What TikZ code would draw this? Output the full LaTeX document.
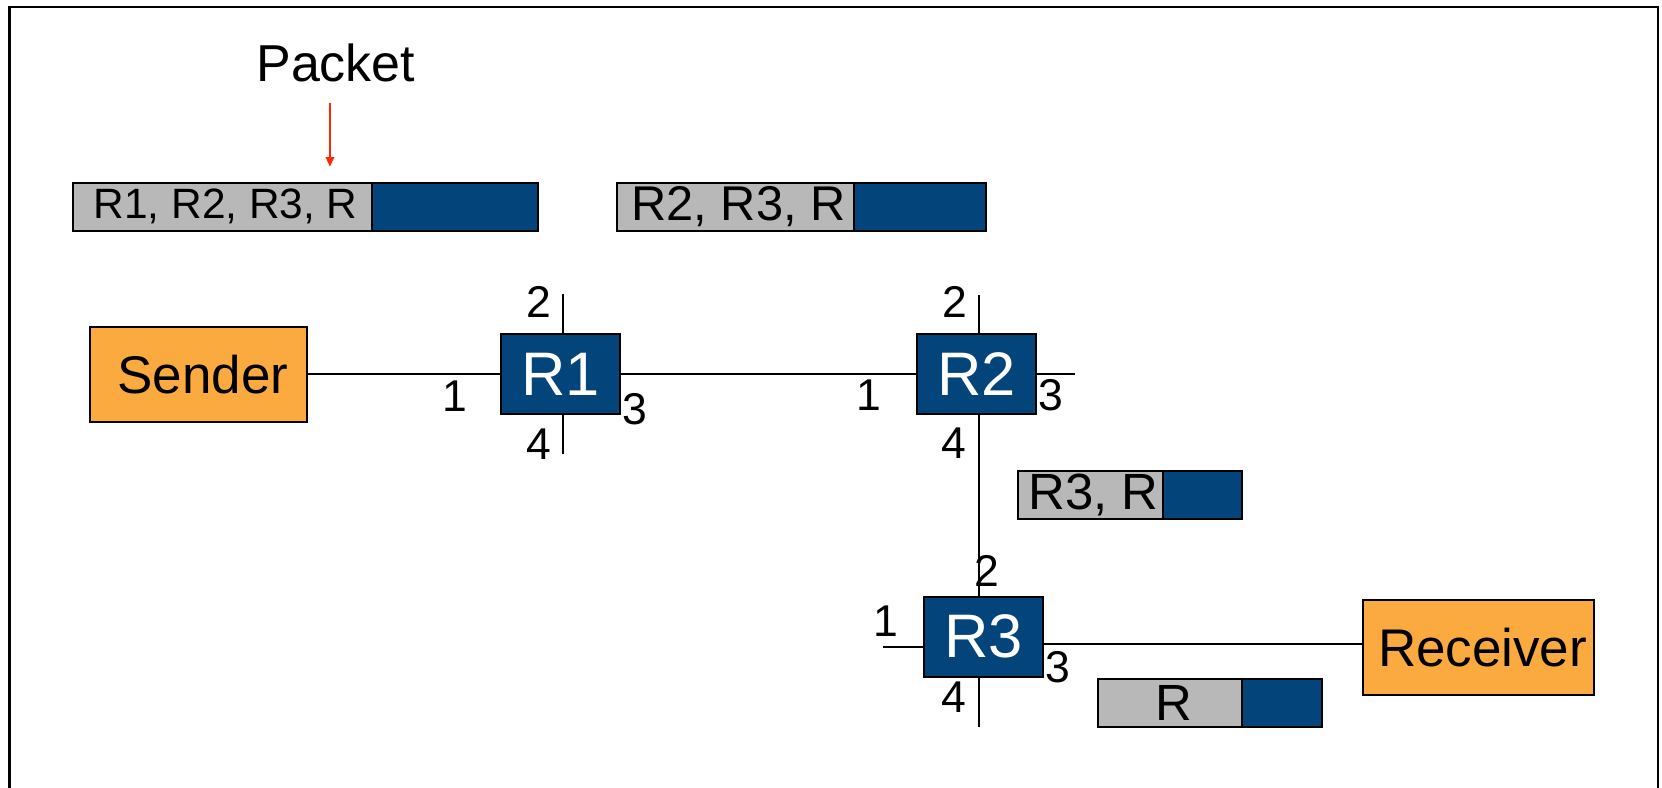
\documentclass[tikz,border=0pt]{standalone}
\usepackage{fontspec}
\setmainfont{Liberation Sans}
\usetikzlibrary{arrows.meta}
\definecolor{hostorange}{RGB}{251,170,64}
\definecolor{routerblue}{RGB}{3,69,122}
\definecolor{hdrgrey}{RGB}{184,184,184}
\definecolor{arrowred}{RGB}{255,40,0}
\newcommand\myfs[1]{\fontsize{#1}{#1}\selectfont}
\begin{document}
\begin{tikzpicture}[x=1pt,y=-1pt,
  box/.style={draw=black, line width=1.9pt, inner sep=0pt, outer sep=0pt},
  host/.style={box, fill=hostorange, minimum width=#1, minimum height=89.6pt, font=\myfs{50}},
  router/.style={box, fill=routerblue, text=white, minimum width=112.6pt, minimum height=75.2pt, font=\myfs{58}},
  hdr/.style={box, fill=hdrgrey, minimum height=45.7pt},
  pay/.style={box, fill=routerblue, minimum height=45.7pt, anchor=west},
  port/.style={inner sep=0pt, font=\myfs{42}},
  wire/.style={line width=1.9pt, black},
  frame/.style={line width=2.2pt, black}
]
\useasboundingbox (0,0) rectangle (1568,743);
% frame
\coordinate (fbl) at (9,745);
\coordinate (ftl) at (9,6.6);
\coordinate (ftr) at (1564,6.6);
\coordinate (fbr) at (1564,745);
\draw[frame] (fbl) -- (ftl) -- (ftr) -- (fbr);

% title and arrow
\node[inner sep=0pt, font=\myfs{49}] (packet) at (316.8,59.7) {Packet};
\coordinate (arrS) at (311.3,96.9);
\coordinate (arrE) at (311.3,157.2);
\draw[arrowred, line width=1.4pt, -{Triangle[width=8pt,length=9pt]}] (arrS) -- (arrE);

% packets
\node[hdr, minimum width=281.4pt, font=\myfs{40}] (p1h) at (209.9,195.15) {\hspace*{6pt}R1, R2, R3, R};
\node[pay, minimum width=157.3pt] (p1p) at (p1h.east) {};
\node[hdr, minimum width=223.7pt, font=\myfs{46}] (p2h) at (693.85,195.15) {\hspace*{6pt}R2, R3, R};
\node[pay, minimum width=124.3pt] (p2p) at (p2h.east) {};
\node[hdr, minimum width=137pt, font=\myfs{48}] (p3h) at (1028.5,467) {\hspace*{6pt}R3, R};
\node[pay, minimum width=75pt] (p3p) at (p3h.east) {};
\node[hdr, minimum width=135.8pt, minimum height=44.9pt, font=\myfs{48}] (p4h) at (1103.5,663.05) {\hspace*{8pt}R};
\node[pay, minimum width=75.6pt, minimum height=44.9pt] (p4p) at (p4h.east) {};

% hosts and routers
\node[host=205pt] (sender) at (187.5,353) {\hspace*{8pt}Sender};
\node[host=218.3pt] (receiver) at (1394.7,610.9) {\hspace*{8pt}Receiver};
\node[router] (R1) at (528.6,353) {R1};
\node[router] (R2) at (921.1,353) {R2};
\node[router] (R3) at (928,600.8) {R3};

% links
\draw[wire] (sender.east) -- (R1.west);
\draw[wire] (R1.east) -- (R2.west);
% R1 stubs
\coordinate (r1top) at (531,277);
\coordinate (r1bot) at (531,428);
\draw[wire] (r1top) -- (r1top |- R1.north);
\draw[wire] (r1bot |- R1.south) -- (r1bot);
% R2 stubs
\coordinate (r2top) at (923.6,278.3);
\coordinate (r2right) at (1014,353);
\draw[wire] (r2top) -- (r2top |- R2.north);
\draw[wire] (R2.east) -- (r2right);
\draw[wire] (r2top |- R2.south) -- (r2top |- R3.north);
% R3 stubs
\coordinate (r3left) at (833.3,610.7);
\coordinate (r3bot) at (923.6,685.5);
\coordinate (r3line) at (984.3,607.5);
\draw[wire] (r3left) -- (r3left -| R3.west);
\draw[wire] (r3bot |- R3.south) -- (r3bot);
\draw[wire] (r3line -| R3.east) -- (r3line -| receiver.west);

% port labels
\node[port] (r1p2) at (508,285) {2};
\node[port] (r1p1) at (429,373.5) {1};
\node[port] (r1p3) at (599,386) {3};
\node[port] (r1p4) at (508,419) {4};
\node[port] (r2p2) at (901,285) {2};
\node[port] (r2p1) at (820,373) {1};
\node[port] (r2p3) at (991,373) {3};
\node[port] (r2p4) at (900,418) {4};
\node[port] (r3p2) at (931,539) {2};
\node[port] (r3p1) at (836,586) {1};
\node[port] (r3p3) at (998,629) {3};
\node[port] (r3p4) at (900,658) {4};
\end{tikzpicture}
\end{document}
